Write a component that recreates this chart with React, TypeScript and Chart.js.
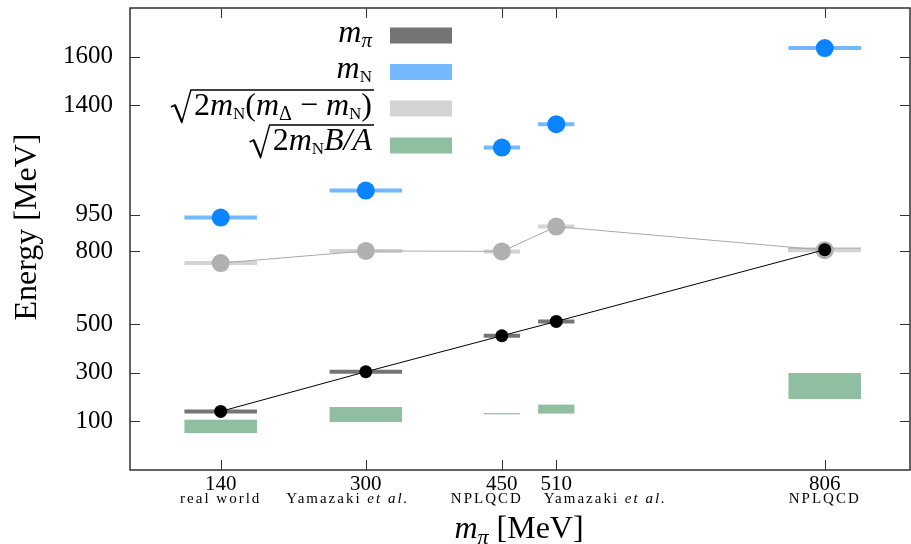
import React, { useEffect, useRef } from "react";
import { Chart, registerables } from "chart.js";

Chart.register(...registerables);

// ---------- data ----------
const mpiX = [140, 300, 450, 510, 806];
const xTickLabels = ["140", "300", "450", "510", "806"];
const sourceMain = ["real world", "Yamazaki ", "NPLQCD", "Yamazaki ", "NPLQCD"];
const sourceItalic = ["", "et al.", "", "et al.", ""];
const xHalfWidth = [40, 40, 20, 20, 40];
const mPi = [141, 304, 452, 511, 806];
const mN = [938, 1049, 1226, 1322, 1635];
const deltaScale = [751, 801, 799, 901, 804];
const bindLow = [52, 97, 131, 132, 192];
const bindHigh = [107, 159, 134, 169, 299];
const yTicks = [100, 300, 500, 800, 950, 1400, 1600];

// ---------- style ----------
const FONT = "'Liberation Serif', 'Times New Roman', serif";
const DARK = "#747474";
const BLUE_BAR = "#74B8FF";
const BLUE_DOT = "#0A84FF";
const LIGHT = "#D3D3D3";
const GRAY_DOT = "#B0B0B0";
const GREEN = "#8FBFA0";
const SUB_LABEL_SHIFT = [0, -18, -15, 49, 0];

type Seg = { t: string; f: string; dy?: number };

function measureRich(ctx: CanvasRenderingContext2D, segs: Seg[]) {
  let w = 0;
  for (const s of segs) {
    ctx.font = s.f;
    w += ctx.measureText(s.t).width;
  }
  return w;
}
function drawRich(ctx: CanvasRenderingContext2D, segs: Seg[], x: number, base: number) {
  let cx = x;
  for (const s of segs) {
    ctx.font = s.f;
    ctx.fillText(s.t, cx, base + (s.dy || 0));
    cx += ctx.measureText(s.t).width;
  }
  return cx;
}

const M = (px: number): Seg => ({ t: "m", f: `italic ${px}px ${FONT}` });
const subN = (): Seg => ({ t: "N", f: `17px ${FONT}`, dy: 4 });
const LG = 32;

const overlay = {
  id: "overlay",
  beforeDatasetsDraw(chart: any) {
    const { ctx, scales } = chart;
    const x = scales.x, y = scales.y;
    ctx.save();
    ctx.fillStyle = GREEN;
    mpiX.forEach((v, i) => {
      const x0 = x.getPixelForValue(v - xHalfWidth[i]);
      const x1 = x.getPixelForValue(v + xHalfWidth[i]);
      const yt = y.getPixelForValue(bindHigh[i]);
      const yb = y.getPixelForValue(bindLow[i]);
      ctx.fillRect(x0, yt, x1 - x0, Math.max(1.2, yb - yt));
    });
    const seg = (vals: number[], color: string) => {
      ctx.strokeStyle = color;
      ctx.lineWidth = 4;
      vals.forEach((val, i) => {
        const py = y.getPixelForValue(val);
        ctx.beginPath();
        ctx.moveTo(x.getPixelForValue(mpiX[i] - xHalfWidth[i]), py);
        ctx.lineTo(x.getPixelForValue(mpiX[i] + xHalfWidth[i]), py);
        ctx.stroke();
      });
    };
    seg(mPi, DARK);
    seg(mN, BLUE_BAR);
    seg(deltaScale, LIGHT);
    ctx.restore();
  },
  afterDraw(chart: any) {
    const { ctx, chartArea: a, scales } = chart;
    const x = scales.x, y = scales.y;
    ctx.save();
    // frame
    ctx.strokeStyle = "#222";
    ctx.lineWidth = 1.4;
    ctx.strokeRect(a.left, a.top, a.right - a.left, a.bottom - a.top);
    // inward ticks
    ctx.lineWidth = 1;
    ctx.strokeStyle = "#333";
    ctx.beginPath();
    mpiX.forEach((v) => {
      const px = Math.round(x.getPixelForValue(v)) + 0.5;
      ctx.moveTo(px, a.bottom); ctx.lineTo(px, a.bottom - 10);
      ctx.moveTo(px, a.top); ctx.lineTo(px, a.top + 10);
    });
    yTicks.forEach((v) => {
      const py = Math.round(y.getPixelForValue(v)) + 0.5;
      ctx.moveTo(a.left, py); ctx.lineTo(a.left + 10, py);
      ctx.moveTo(a.right, py); ctx.lineTo(a.right - 10, py);
    });
    ctx.stroke();

    // source sub-labels
    ctx.fillStyle = "#000";
    ctx.textAlign = "left";
    ctx.textBaseline = "alphabetic";
    (ctx as any).letterSpacing = "2px";
    mpiX.forEach((v, i) => {
      const segs: Seg[] = [{ t: sourceMain[i], f: `15px ${FONT}` }];
      if (sourceItalic[i]) segs.push({ t: sourceItalic[i], f: `italic 15px ${FONT}` });
      const w = measureRich(ctx, segs);
      const cx = x.getPixelForValue(v) + SUB_LABEL_SHIFT[i];
      drawRich(ctx, segs, cx - w / 2, 503);
    });
    (ctx as any).letterSpacing = "0px";

    // x title
    const xt: Seg[] = [M(32), { t: "π", f: `italic 22px ${FONT}`, dy: 6 }, { t: " [MeV]", f: `32px ${FONT}` }];
    const xw = measureRich(ctx, xt);
    drawRich(ctx, xt, (a.left + a.right) / 2 - xw / 2 - 1, 538);

    // y title
    ctx.save();
    ctx.translate(36, 227);
    ctx.rotate(-Math.PI / 2);
    ctx.textAlign = "center";
    ctx.font = `32px ${FONT}`;
    ctx.fillText("Energy [MeV]", 0, 0);
    ctx.restore();

    // legend
    const R = 372;
    const rows: { segs: Seg[]; sqrt: boolean; base: number; color: string; cy: number }[] = [
      { segs: [M(LG), { t: "π", f: `italic 21px ${FONT}`, dy: 5 }], sqrt: false, base: 42, color: DARK, cy: 35.5 },
      { segs: [M(LG), subN()], sqrt: false, base: 78, color: BLUE_BAR, cy: 72 },
      {
        segs: [
          { t: "2", f: `${LG}px ${FONT}` }, M(LG), subN(), { t: "(", f: `${LG}px ${FONT}` }, M(LG),
          { t: "Δ", f: `20px ${FONT}`, dy: 5 }, { t: " − ", f: `${LG}px ${FONT}` }, M(LG), subN(),
          { t: ")", f: `${LG}px ${FONT}` },
        ],
        sqrt: true, base: 115, color: LIGHT, cy: 108.5,
      },
      {
        segs: [{ t: "2", f: `${LG}px ${FONT}` }, M(LG), subN(), { t: "B/A", f: `italic ${LG}px ${FONT}` }],
        sqrt: true, base: 150, color: GREEN, cy: 145.5,
      },
    ];
    ctx.textAlign = "left";
    rows.forEach((r) => {
      const w = measureRich(ctx, r.segs);
      const sx = R - w;
      drawRich(ctx, r.segs, sx, r.base);
      if (r.sqrt) {
        const b = r.base;
        const x0 = sx - 23;
        ctx.strokeStyle = "#000";
        ctx.lineWidth = 1.4;
        ctx.lineJoin = "miter";
        ctx.beginPath();
        ctx.moveTo(x0, b - 8);
        ctx.lineTo(x0 + 4, b - 10);
        ctx.lineTo(x0 + 11, b + 7);
        ctx.lineTo(x0 + 20, b - 25);
        ctx.lineTo(R + 2, b - 25);
        ctx.stroke();
        ctx.lineWidth = 2.2;
        ctx.beginPath();
        ctx.moveTo(x0 + 4, b - 10);
        ctx.lineTo(x0 + 11, b + 7);
        ctx.stroke();
      }
      ctx.fillStyle = r.color;
      ctx.fillRect(390, r.cy - 8, 62, 16);
      ctx.fillStyle = "#000";
    });
    ctx.restore();
  },
};

export default function App() {
  const ref = useRef<HTMLCanvasElement | null>(null);
  useEffect(() => {
    if (!ref.current) return;
    const chart = new Chart(ref.current, {
      type: "scatter",
      data: {
        datasets: [
          {
            label: "mpi",
            data: mpiX.map((v, i) => ({ x: v, y: mPi[i] })),
            showLine: true,
            borderColor: "#000",
            borderWidth: 1,
            pointRadius: 6.5,
            pointHoverRadius: 0,
            pointBorderWidth: 0,
            pointBackgroundColor: "#000",
            order: 0,
          },
          {
            label: "mN",
            data: mpiX.map((v, i) => ({ x: v, y: mN[i] })),
            showLine: false,
            pointRadius: 9,
            pointHoverRadius: 0,
            pointBorderWidth: 0,
            pointBackgroundColor: BLUE_DOT,
            order: 1,
          },
          {
            label: "delta",
            data: mpiX.map((v, i) => ({ x: v, y: deltaScale[i] })),
            showLine: true,
            borderColor: "#A8A8A8",
            borderWidth: 1,
            pointRadius: 9,
            pointHoverRadius: 0,
            pointBorderWidth: 0,
            pointBackgroundColor: GRAY_DOT,
            order: 2,
          },
        ],
      },
      options: {
        animation: false,
        responsive: true,
        maintainAspectRatio: false,
        events: [],
        layout: { autoPadding: false, padding: { top: 8, right: 1, left: 0, bottom: 0 } },
        plugins: { legend: { display: false }, tooltip: { enabled: false } },
        scales: {
          x: {
            type: "linear",
            min: 40,
            max: 900,
            grid: { display: false, drawTicks: false },
            border: { display: false },
            afterBuildTicks: (s: any) => { s.ticks = mpiX.map((v) => ({ value: v })); },
            afterFit: (s: any) => { s.height = 74; s.paddingLeft = 0; s.paddingRight = 0; },
            ticks: {
              autoSkip: false,
              maxRotation: 0,
              padding: 2,
              color: "#000",
              font: { family: FONT, size: 21 },
              callback: (v: any) => xTickLabels[mpiX.indexOf(Number(v))] ?? "",
            },
          },
          y: {
            type: "linear",
            min: -100,
            max: 1800,
            grid: { display: false, drawTicks: false },
            border: { display: false },
            afterBuildTicks: (s: any) => { s.ticks = yTicks.map((v) => ({ value: v })); },
            afterFit: (s: any) => { s.width = 130; s.paddingTop = 0; s.paddingBottom = 0; },
            ticks: {
              autoSkip: false,
              padding: 17,
              color: "#000",
              font: { family: FONT, size: 25 },
              callback: (v: any) => String(v),
            },
          },
        },
      },
      plugins: [overlay],
    } as any);
    return () => chart.destroy();
  }, []);
  return (
    <div style={{ position: "absolute", left: 0, top: 0, width: 911, height: 544, background: "#fff" }}>
      <canvas ref={ref} />
    </div>
  );
}
